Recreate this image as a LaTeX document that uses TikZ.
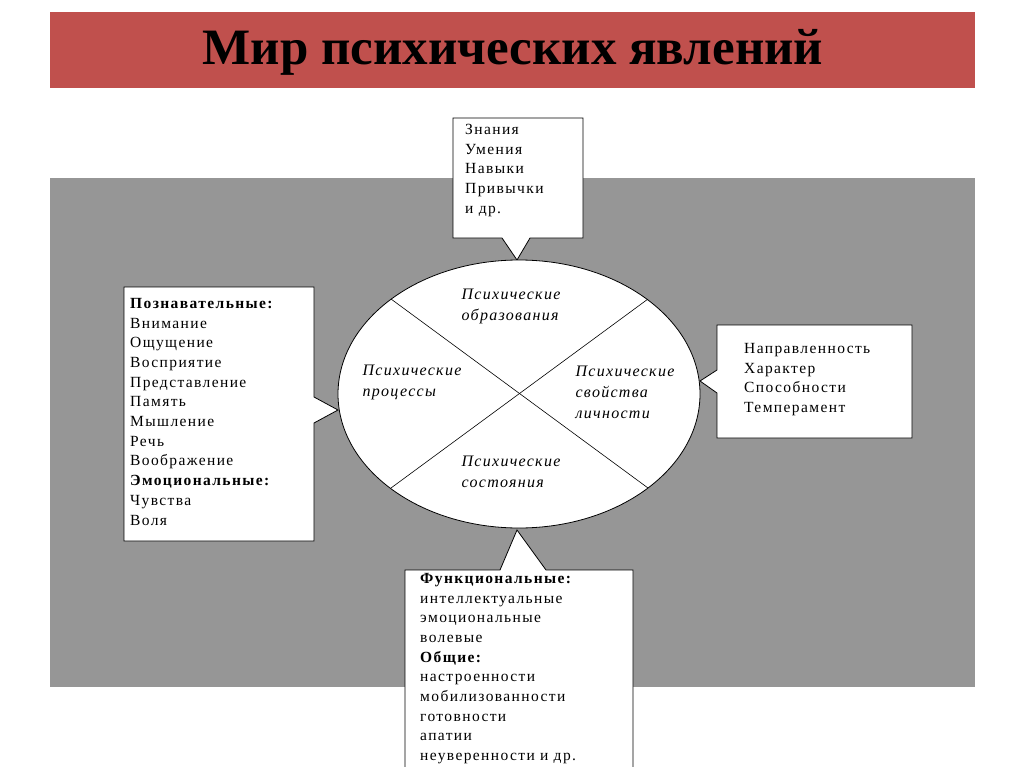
\documentclass[tikz,border=0pt]{standalone}
\usepackage{fontspec}
\setmainfont{Liberation Serif}
\newfontfamily\boxfont[LetterSpace=9]{Liberation Serif}
\newfontfamily\ellfont[LetterSpace=8]{Liberation Serif Italic}
\definecolor{titlered}{HTML}{C0504D}
\definecolor{bggray}{HTML}{969696}
\begin{document}
\begin{tikzpicture}[x=1pt,y=-1pt,
  callout/.style={draw=black,fill=white,line width=0.8pt},
  txt/.style={anchor=north west,align=left,inner sep=0pt,font=\boxfont\fontsize{15.5}{19.7}\selectfont},
  etxt/.style={align=left,inner sep=0pt,font=\ellfont\fontsize{16}{21}\selectfont}]
\useasboundingbox (0,0) rectangle (1024,767);
\fill[white] (0,0) rectangle (1024,767);
\fill[titlered] (50,12) rectangle (975,88);
\node[font=\bfseries\fontsize{51}{56}\selectfont] (title) at (513,52) {Мир психических явлений};
\fill[bggray] (50,178) rectangle (975,687);
% callouts
\draw[callout] (453,118) -- (583,118) -- (583,238) -- (530,238) -- (517,260) -- (502,238) -- (453,238) -- cycle;
\draw[callout] (124,287) -- (314,287) -- (314,397) -- (338,410) -- (314,423) -- (314,541) -- (124,541) -- cycle;
\draw[callout] (717,325) -- (912,325) -- (912,438) -- (717,438) -- (717,393) -- (700,381) -- (717,370) -- cycle;
\draw[callout] (405,570) -- (500,570) -- (517,530) -- (546,570) -- (633,570) -- (633,770) -- (405,770) -- cycle;
% ellipse
\draw[fill=white,line width=0.8pt] (519,394) ellipse [x radius=181, y radius=134];
\draw[line width=0.6pt] (391,299) -- (648,488);
\draw[line width=0.6pt] (648,299) -- (391,488);
\node[etxt] (e1) at (511,306) {Психические\\образования};
\node[etxt] (e2) at (412,382) {Психические\\процессы};
\node[etxt] (e3) at (625,392) {Психические\\свойства\\личности};
\node[etxt] (e4) at (511,472) {Психические\\состояния};
% texts
\node[txt] (t1) at (465,124) {Знания\\Умения\\Навыки\\Привычки\\и др.};
\node[txt] (t2) at (130,298) {\textbf{Познавательные:}\\Внимание\\Ощущение\\Восприятие\\Представление\\Память\\Мышление\\Речь\\Воображение\\\textbf{Эмоциональные:}\\Чувства\\Воля};
\node[txt] (t3) at (744,343) {Направленность\\Характер\\Способности\\Темперамент};
\node[txt] (t4) at (420,573) {\textbf{Функциональные:}\\интеллектуальные\\эмоциональные\\волевые\\\textbf{Общие:}\\настроенности\\мобилизованности\\готовности\\апатии\\неуверенности и др.};
\end{tikzpicture}
\end{document}
